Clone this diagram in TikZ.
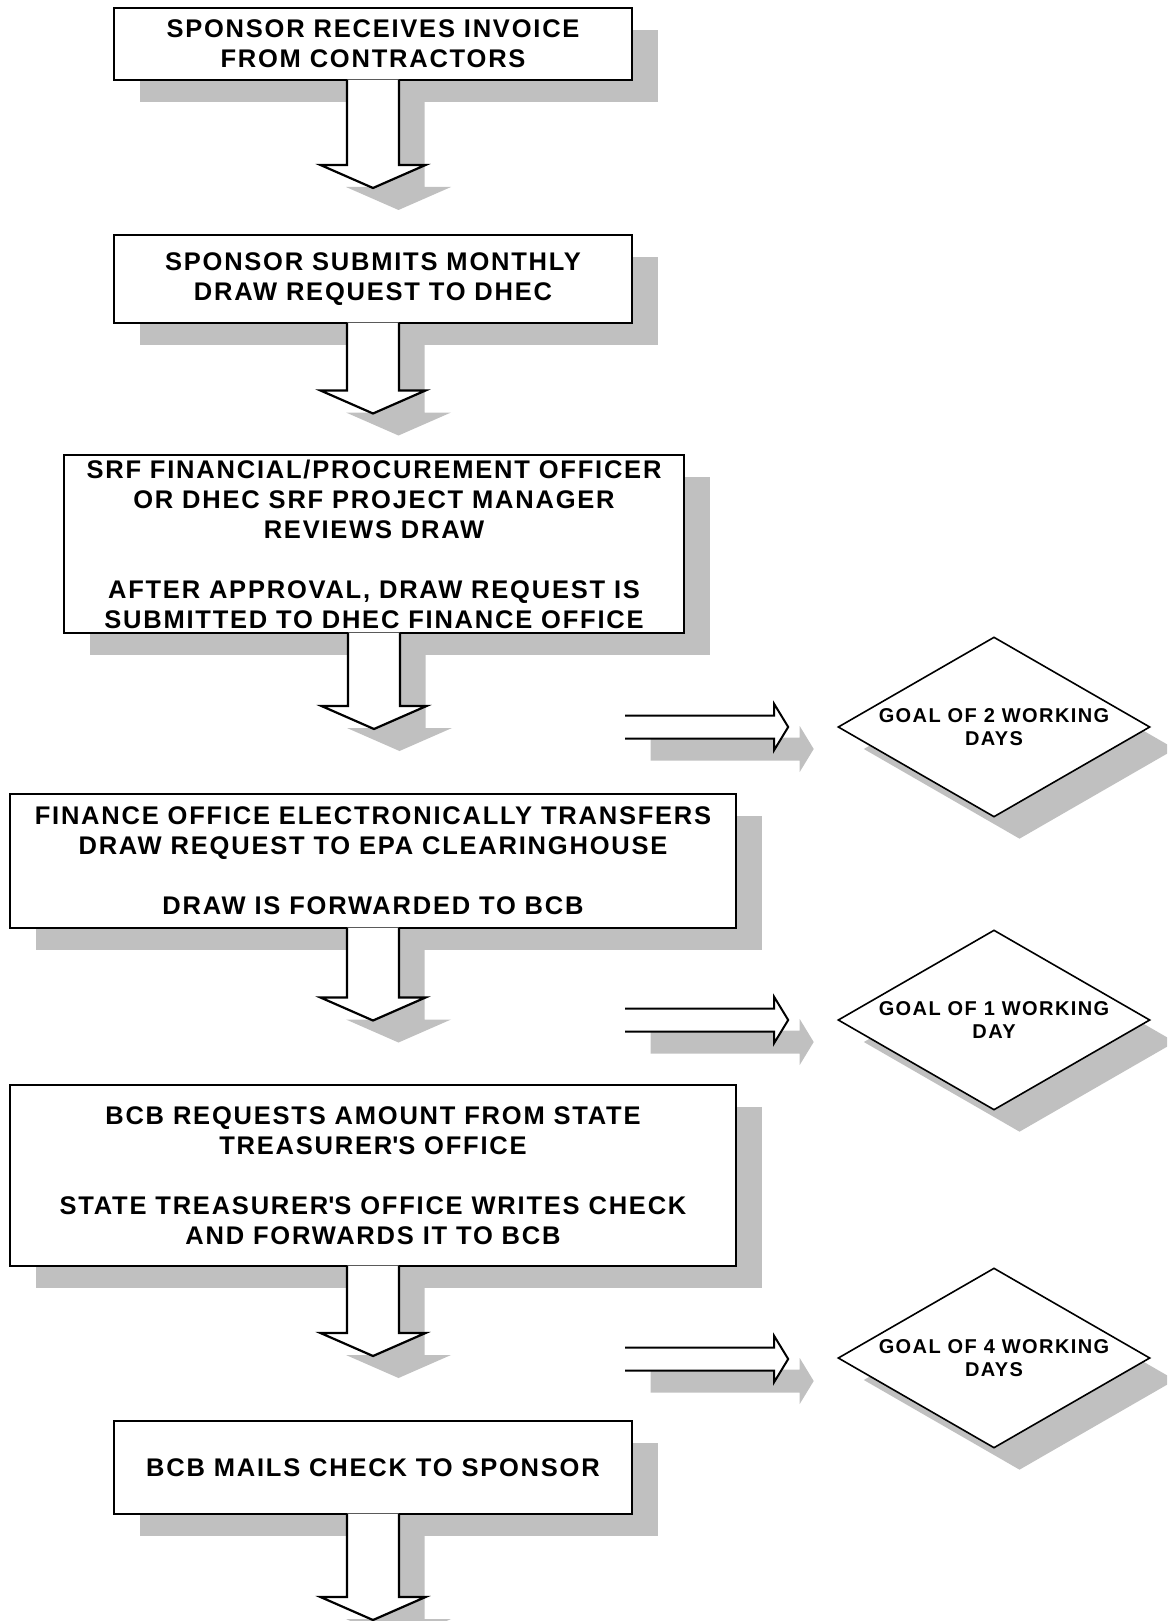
\documentclass[tikz,border=0pt]{standalone}
\usepackage{fontspec}
\setmainfont{Liberation Sans}[LetterSpace=7]
\usetikzlibrary{calc,shapes.geometric}
\definecolor{shadowgray}{RGB}{192,192,192}

\newcommand{\downblock}[2]{%
  \draw[blockline] let \p1=(#1.south), \p2=(#2) in
    (\x1-26pt,\y1+1.5pt) -- (\x1-26pt,\y2+23pt) -- (\x1-52.5pt,\y2+23pt) -- (\x1,\y2)
    -- (\x1+52.5pt,\y2+23pt) -- (\x1+26pt,\y2+23pt) -- (\x1+26pt,\y1+1.5pt);}
\newcommand{\sideblock}[2]{%
  \draw[blockline,line width=2pt] let \p1=(#1), \p2=([xshift=-49pt]#2.west) in
    (\x1,\y1+11.5pt) -- (\x2-14pt,\y1+11.5pt) -- (\x2-14pt,\y1+23pt) -- (\x2,\y1)
    -- (\x2-14pt,\y1-23pt) -- (\x2-14pt,\y1-11.5pt) -- (\x1,\y1-11.5pt);}

\begin{document}
\begin{tikzpicture}[x=1pt,y=-1pt,
  grayshadow/.style={preaction={fill=shadowgray,transform canvas={xshift=25.5pt,yshift=-22pt}}},
  stepbox/.style={draw,line width=2.2pt,fill=white,grayshadow,inner sep=0pt,align=center,
    font=\bfseries\fontsize{25.5pt}{30pt}\selectfont},
  goal/.style={draw,diamond,aspect=1.733,line width=1.6pt,fill=white,grayshadow,inner sep=-3pt,
    minimum width=312pt,minimum height=180pt,align=center,
    font=\bfseries\fontsize{20pt}{22.5pt}\selectfont},
  blockline/.style={line width=2.2pt,draw,fill=white,grayshadow}]
\clip (0,0) rectangle (1167,1621);

\node[stepbox,minimum width=518pt,minimum height=72pt] (invoice) at (373,44) {SPONSOR RECEIVES INVOICE\\FROM CONTRACTORS};
\coordinate (tipone) at (373,188);
\downblock{invoice}{tipone}

\node[stepbox,minimum width=518pt,minimum height=88pt] (monthly) at (373,279) {SPONSOR SUBMITS MONTHLY\\DRAW REQUEST TO DHEC};
\coordinate (tiptwo) at (373,413.5);
\downblock{monthly}{tiptwo}

\node[stepbox,minimum width=620pt,minimum height=178pt] (review) at (374,544) {SRF FINANCIAL/PROCUREMENT OFFICER\\OR DHEC SRF PROJECT MANAGER\\REVIEWS DRAW\\[30pt]AFTER APPROVAL, DRAW REQUEST IS\\SUBMITTED TO DHEC FINANCE OFFICE};
\coordinate (tipthree) at (373,729);
\downblock{review}{tipthree}

\node[stepbox,minimum width=726pt,minimum height=134pt] (transfer) at (373,861) {FINANCE OFFICE ELECTRONICALLY TRANSFERS\\DRAW REQUEST TO EPA CLEARINGHOUSE\\[30pt]DRAW IS FORWARDED TO BCB};
\coordinate (tipfour) at (373,1020.5);
\downblock{transfer}{tipfour}

\node[stepbox,minimum width=726pt,minimum height=181pt] (treasurer) at (373,1175.5) {BCB REQUESTS AMOUNT FROM STATE\\TREASURER\textquotesingle S OFFICE\\[30pt]STATE TREASURER\textquotesingle S OFFICE WRITES CHECK\\AND FORWARDS IT TO BCB};
\coordinate (tipfive) at (373,1356);
\downblock{treasurer}{tipfive}

\node[stepbox,minimum width=518pt,minimum height=93pt] (mail) at (373,1467.5) {BCB MAILS CHECK TO SPONSOR};
\coordinate (tipsix) at (373,1620);
\downblock{mail}{tipsix}

\node[goal] (goaltwo) at (994,727) {GOAL OF 2 WORKING\\DAYS};
\coordinate (sidetwo) at (625,727);
\sideblock{sidetwo}{goaltwo}

\node[goal] (goalone) at (994,1020) {GOAL OF 1 WORKING\\DAY};
\coordinate (sideone) at (625,1020);
\sideblock{sideone}{goalone}

\node[goal] (goalfour) at (994,1358) {GOAL OF 4 WORKING\\DAYS};
\coordinate (sidefour) at (625,1359);
\sideblock{sidefour}{goalfour}
\end{tikzpicture}
\end{document}
